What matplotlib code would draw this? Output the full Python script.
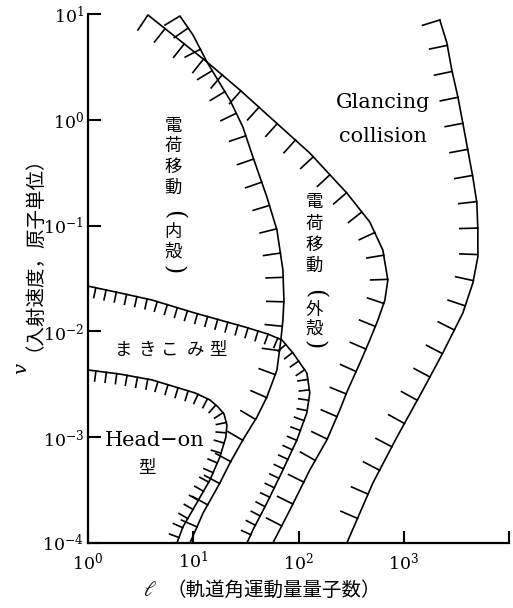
import numpy as np
import matplotlib
matplotlib.use('Agg')
import matplotlib.pyplot as plt

plt.rcParams['font.family'] = ['DejaVu Serif', 'Noto Sans CJK JP']
plt.rcParams['mathtext.fontset'] = 'dejavuserif'

# ---------------- data (l = orbital angular momentum, v = velocity) ----------
glancing_l = [2200, 2570, 2860, 3270, 3640, 4060, 4530, 4950, 5060, 5060, 4530,
              3640, 2350, 1520, 860, 509, 288]
glancing_v = [8.78, 5.32, 2.96, 1.64, 0.933, 0.519, 0.288, 0.164, 0.0908, 0.0505,
              0.0286, 0.0149, 0.00626, 0.00279, 0.00100, 3.69e-4, 1.0e-4]

outer_l = [2.98, 3.71, 7.16, 13.5, 27.8, 53.5, 128, 288, 476, 633, 706, 662, 568,
           476, 383, 288, 247, 186, 128, 82.8, 57.1]
outer_v = [7.06, 9.79, 5.81, 3.52, 1.91, 1.06, 0.485, 0.203, 0.108, 0.0587, 0.0306,
           0.0198, 0.0128, 0.00830, 0.00502, 0.00267, 0.00181, 9.42e-4, 4.90e-4,
           2.05e-4, 1.0e-4]

inner_l = [5.39, 7.47, 9.94, 13.5, 22.3, 29.6, 36.9, 50.1, 62.4, 71.1, 72.7, 71.1,
           68.0, 62.4, 50.1, 40.3, 29.6, 22.3, 17.9, 12.4, 9.30]
inner_v = [7.87, 9.57, 6.34, 3.52, 1.54, 0.855, 0.445, 0.186, 0.0908, 0.0380, 0.0198,
           0.0128, 0.00830, 0.00432, 0.00240, 0.00155, 9.42e-4, 5.70e-4, 3.69e-4,
           1.92e-4, 1.0e-4]

makikomi_l = [1.0, 2.01, 4.05, 10.4, 31.0, 51.2, 69.6, 88.5, 120, 128, 120, 96.6,
              71.1, 50.1, 36.9, 32.4]
makikomi_v = [0.0268, 0.0231, 0.0198, 0.0149, 0.0110, 0.00944, 0.00830, 0.00626,
              0.00405, 0.00262, 0.00170, 9.42e-4, 4.90e-4, 2.39e-4, 1.33e-4, 1.0e-4]

headon_l = [1.0, 2.01, 4.05, 10.4, 14.4, 17.2, 19.6, 20.9, 20.4, 17.9, 14.4, 10.8,
            7.98, 7.00]
headon_v = [0.00432, 0.00395, 0.00348, 0.00262, 0.00225, 0.00193, 0.00166, 0.00130,
            0.00100, 6.50e-4, 3.94e-4, 2.39e-4, 1.42e-4, 1.0e-4]

x_ticks = [1, 10, 100, 1000, 10000]
x_ticklabels = ['$10^0$', '$10^1$', '$10^2$', '$10^3$', '']
y_ticks = [1e-4, 1e-3, 1e-2, 1e-1, 1, 10]
y_ticklabels = ['$10^{-4}$', '$10^{-3}$', '$10^{-2}$', '$10^{-1}$', '$10^0$', '$10^1$']

# ---------------- figure ------------------------------------------------------
W, H = 513, 608
fig = plt.figure(figsize=(W / 100, H / 100), dpi=100)
AX_L, AX_R, AX_T, AX_B = 88, 509, 14, 543
ax = fig.add_axes([AX_L / W, (H - AX_B) / H, (AX_R - AX_L) / W, (AX_B - AX_T) / H])
ax.set_xscale('log')
ax.set_yscale('log')
ax.set_xlim(1, 1e4)
ax.set_ylim(1e-4, 10)
for s in ['top', 'right']:
    ax.spines[s].set_visible(False)
for s in ['left', 'bottom']:
    ax.spines[s].set_linewidth(1.6)
ax.set_xticks(x_ticks)
ax.set_xticklabels(x_ticklabels)
ax.set_yticks(y_ticks)
ax.set_yticklabels(y_ticklabels)
ax.minorticks_off()
ax.tick_params(axis='both', direction='in', length=9, width=1.5, labelsize=12.5)
ax.tick_params(axis='y', pad=3)
ax.tick_params(axis='x', pad=6)


def hatched(l, v, spacing, length, start=0.0, lw=1.2, end_trim=2.0):
    ax.plot(l, v, color='k', lw=lw, clip_on=False, solid_joinstyle='round')
    pts = ax.transData.transform(np.column_stack([l, v]))
    seg = np.diff(pts, axis=0)
    seglen = np.hypot(seg[:, 0], seg[:, 1])
    cum = np.concatenate([[0.0], np.cumsum(seglen)])

    def at(s):
        s = min(max(s, 0.0), cum[-1])
        i = min(np.searchsorted(cum, s, side='right') - 1, len(seglen) - 1)
        t = (s - cum[i]) / seglen[i] if seglen[i] > 0 else 0.0
        return pts[i] + t * seg[i]

    inv = ax.transData.inverted()
    for s in np.arange(start, cum[-1] - end_trim, spacing):
        p = at(s)
        d = at(s + 4) - at(s - 4)
        d = d / np.hypot(*d)
        n = np.array([d[1], -d[0]])
        q = p + n * length
        pq = inv.transform(np.vstack([p, q]))
        ax.plot(pq[:, 0], pq[:, 1], color='k', lw=lw, clip_on=False)


hatched(glancing_l, glancing_v, spacing=26.5, length=18, start=0)
hatched(outer_l, outer_v, spacing=24.5, length=17, start=40)
hatched(inner_l, inner_v, spacing=24.5, length=17, start=32)
hatched(makikomi_l, makikomi_v, spacing=10.5, length=10, start=8)
hatched(headon_l, headon_v, spacing=10.5, length=10, start=8)


def px(x, y):
    return ((x - AX_L) / (AX_R - AX_L), (AX_B - y) / (AX_B - AX_T))


def put(x, y, s, size=12, **kw):
    ax.text(*px(x, y), s, transform=ax.transAxes, ha='center', va='center',
            fontsize=size, **kw)


# text labels
put(383, 103, 'Glancing', size=15)
put(383, 137, 'collision', size=15)
put(155, 440, 'Head\u2212on', size=15)
put(147, 469, '型', size=12.5)

for ch, x in zip(['ま', 'き', 'こ', 'み', '型'], [124, 147, 170, 195, 218]):
    put(x, 350, ch, size=12.5)


def vertical_label(x, ys, chars):
    for ch, y in zip(chars, ys):
        if ch in '()':
            put(x, y, ch, size=17, rotation=-90, family='DejaVu Serif',
                fontweight='light')
        else:
            put(x, y, ch, size=12.5)


vertical_label(173, [127, 146, 167, 188, 215, 232, 252, 270],
               ['電', '荷', '移', '動', '(', '内', '殻', ')'])
vertical_label(314, [203, 224, 245, 266, 294, 310, 329, 345],
               ['電', '荷', '移', '動', '(', '外', '殻', ')'])

# axis labels
put(22, 369, '$v$', size=14, rotation=90)
put(24, 244, '（入射速度，原子単位）', size=14, rotation=90)
put(150, 590, r'$\ell$', size=15)
put(274, 590, '（軌道角運動量量子数）', size=14)

fig.savefig('out.png', dpi=100)
